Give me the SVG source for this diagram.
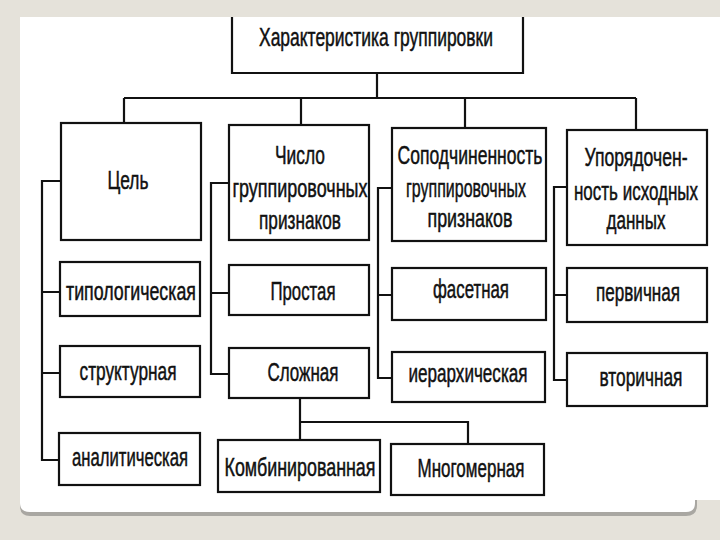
<svg xmlns="http://www.w3.org/2000/svg" width="720" height="540" viewBox="0 0 720 540">
<style>
.box{fill:#fff;stroke:#111;stroke-width:2.2}
.ln{fill:none;stroke:#111;stroke-width:2.2}
text{font-family:"Liberation Sans Narrow","Liberation Sans",Arial,sans-serif;font-size:18px;fill:#111;stroke:#111;stroke-width:0.35;text-anchor:middle}
</style>
<rect width="720" height="540" fill="#e5e2da"/>
<path d="M20 17 H720 V500 H697 V505 Q697 516 686 516 H30 Q20 516 20 506 Z" fill="#a9a7a2"/>
<path d="M20 17 H720 V500 H695 V503 Q695 512 686 512 H30 Q20 512 20 503 Z" fill="#fff"/>
<g id="connectors">
<path class="ln" d="M377 73 V98 M124 98 H636 M124 98 V123 M301 98 V125 M465 98 V128 M636 98 V130"/>
<path class="ln" d="M61 181 H42 V460 H60 M42 292 H60 M42 373 H60"/>
<path class="ln" d="M229 183 H211 V374 H229 M211 293 H229"/>
<path class="ln" d="M392 188 H378 V378 H392 M378 295 H392"/>
<path class="ln" d="M567 187 H554 V380 H567 M554 295 H567"/>
<path class="ln" d="M300 398 V440 M300 422 H468 V444"/>
</g>
<g id="n-root"><path class="box" d="M232 17 V73 H523 V17"/><text transform="translate(0,46) scale(1,1.45)" x="376" y="0" textLength="234" lengthAdjust="spacingAndGlyphs">Характеристика группировки</text></g>
<g id="n-goal"><rect class="box" x="61" y="123" width="140" height="117"/><text transform="translate(0,189) scale(1,1.45)" x="128" y="0" textLength="41" lengthAdjust="spacingAndGlyphs">Цель</text></g>
<g id="n-number"><rect class="box" x="229" y="125" width="140" height="115"/><text transform="translate(0,164) scale(1,1.45)" x="300" y="0" textLength="50" lengthAdjust="spacingAndGlyphs">Число</text><text transform="translate(0,197) scale(1,1.45)" x="300" y="0" textLength="135" lengthAdjust="spacingAndGlyphs">группировочных</text><text transform="translate(0,229) scale(1,1.45)" x="300" y="0" textLength="82" lengthAdjust="spacingAndGlyphs">признаков</text></g>
<g id="n-subord"><rect class="box" x="392" y="128" width="154" height="113"/><text transform="translate(0,164) scale(1,1.45)" x="470" y="0" textLength="145" lengthAdjust="spacingAndGlyphs">Соподчиненность</text><text transform="translate(0,197) scale(1,1.45)" x="466" y="0" textLength="120" lengthAdjust="spacingAndGlyphs">группировочных</text><text transform="translate(0,227) scale(1,1.45)" x="470" y="0" textLength="85" lengthAdjust="spacingAndGlyphs">признаков</text></g>
<g id="n-order"><rect class="box" x="567" y="130" width="140" height="115"/><text transform="translate(0,166) scale(1,1.45)" x="636" y="0" textLength="103" lengthAdjust="spacingAndGlyphs">Упорядочен-</text><text transform="translate(0,200) scale(1,1.45)" x="636" y="0" textLength="124" lengthAdjust="spacingAndGlyphs">ность исходных</text><text transform="translate(0,229) scale(1,1.45)" x="636" y="0" textLength="59" lengthAdjust="spacingAndGlyphs">данных</text></g>
<g id="n-typ"><rect class="box" x="60" y="262" width="140" height="54"/><text transform="translate(0,300) scale(1,1.45)" x="131" y="0" textLength="130" lengthAdjust="spacingAndGlyphs">типологическая</text></g>
<g id="n-str"><rect class="box" x="60" y="346" width="140" height="51"/><text transform="translate(0,380) scale(1,1.45)" x="128" y="0" textLength="97" lengthAdjust="spacingAndGlyphs">структурная</text></g>
<g id="n-anl"><rect class="box" x="59" y="433" width="141" height="52"/><text transform="translate(0,466) scale(1,1.45)" x="130" y="0" textLength="116" lengthAdjust="spacingAndGlyphs">аналитическая</text></g>
<g id="n-simple"><rect class="box" x="229" y="265" width="140" height="50"/><text transform="translate(0,300) scale(1,1.45)" x="303" y="0" textLength="65" lengthAdjust="spacingAndGlyphs">Простая</text></g>
<g id="n-complex"><rect class="box" x="229" y="348" width="140" height="50"/><text transform="translate(0,381) scale(1,1.45)" x="303" y="0" textLength="71" lengthAdjust="spacingAndGlyphs">Сложная</text></g>
<g id="n-comb"><rect class="box" x="218" y="440" width="162" height="52"/><text transform="translate(0,476) scale(1,1.45)" x="300" y="0" textLength="151" lengthAdjust="spacingAndGlyphs">Комбинированная</text></g>
<g id="n-multi"><rect class="box" x="391" y="444" width="153" height="51"/><text transform="translate(0,477) scale(1,1.45)" x="471" y="0" textLength="107" lengthAdjust="spacingAndGlyphs">Многомерная</text></g>
<g id="n-facet"><rect class="box" x="392" y="268" width="154" height="52"/><text transform="translate(0,298) scale(1,1.45)" x="471" y="0" textLength="76" lengthAdjust="spacingAndGlyphs">фасетная</text></g>
<g id="n-hier"><rect class="box" x="392" y="352" width="153" height="50"/><text transform="translate(0,382) scale(1,1.45)" x="468" y="0" textLength="119" lengthAdjust="spacingAndGlyphs">иерархическая</text></g>
<g id="n-prim"><rect class="box" x="567" y="268" width="140" height="54"/><text transform="translate(0,301) scale(1,1.45)" x="638" y="0" textLength="84" lengthAdjust="spacingAndGlyphs">первичная</text></g>
<g id="n-sec"><rect class="box" x="567" y="353" width="140" height="53"/><text transform="translate(0,386) scale(1,1.45)" x="641" y="0" textLength="83" lengthAdjust="spacingAndGlyphs">вторичная</text></g>
</svg>
